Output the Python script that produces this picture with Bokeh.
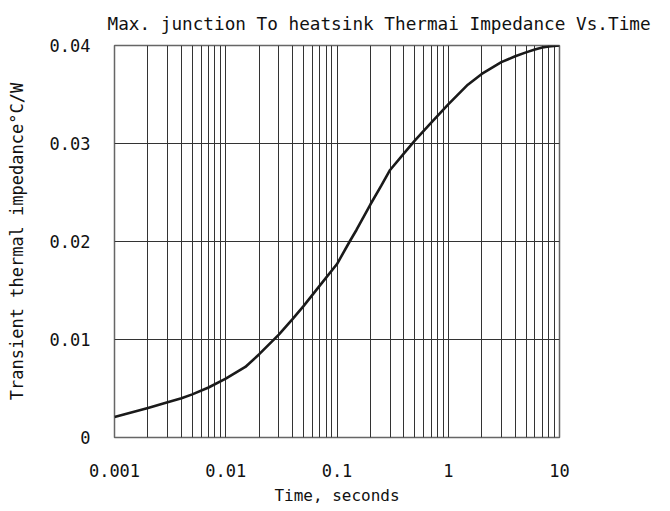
from bokeh.plotting import figure
from bokeh.models import Range1d, FixedTicker
from bokeh.embed import file_html
from bokeh.resources import INLINE

# ---- data ----
time_s = [0.001, 0.002, 0.003, 0.004, 0.005, 0.007, 0.01, 0.015, 0.02, 0.03,
          0.04, 0.05, 0.07, 0.1, 0.13, 0.15, 0.2, 0.25, 0.3, 0.4, 0.5, 0.7,
          1, 1.5, 2, 3, 4, 5, 6, 7, 8, 10]
impedance = [0.0021, 0.0030, 0.0036, 0.0040, 0.0044, 0.0051, 0.0060, 0.0072,
             0.0085, 0.0105, 0.0121, 0.0134, 0.0155, 0.0177, 0.0200, 0.0212,
             0.0238, 0.0257, 0.0273, 0.0290, 0.0303, 0.0321, 0.0340, 0.0360,
             0.0371, 0.0383, 0.0389, 0.0393, 0.0396, 0.0398, 0.0399, 0.0400]

x_ticks = [0.001, 0.01, 0.1, 1, 10]
x_tick_labels = ["0.001", "0.01", "0.1", "1", "10"]
y_ticks = [0, 0.01, 0.02, 0.03, 0.04]
y_tick_labels = ["0", "0.01", "0.02", "0.03", "0.04"]
minor_mult = [2, 3, 4, 5, 6, 7, 8, 9]

title_text = "Max. junction To heatsink Thermai Impedance Vs.Time"
x_label = "Time, seconds"
y_label = "Transient thermal impedance\u00b0C/W"

FONT = "DejaVu Sans Mono"

p = figure(
    x_axis_type="log",
    x_range=Range1d(x_ticks[0], x_ticks[-1]),
    y_range=Range1d(y_ticks[0], y_ticks[-1]),
    frame_width=445, frame_height=392,
    min_border_left=114, min_border_right=100,
    min_border_top=45, min_border_bottom=66,
    output_backend="svg", toolbar_location=None,
    title=title_text,
)

p.title.text_font = FONT
p.title.text_font_size = "17.7px"
p.title.text_font_style = "normal"
p.title.text_color = "#111111"
p.title.align = "left"
p.title.offset = -7
p.title.standoff = 23

p.background_fill_color = "white"
p.border_fill_color = "white"
p.outline_line_color = "#666666"
p.outline_line_width = 1.5

minor = [d * m for d in x_ticks[:-1] for m in minor_mult]
p.xaxis.ticker = FixedTicker(ticks=x_ticks, minor_ticks=minor)
p.yaxis.ticker = FixedTicker(ticks=y_ticks)
p.xaxis.major_label_overrides = dict(zip(x_ticks, x_tick_labels))
p.yaxis.major_label_overrides = dict(zip(y_ticks, y_tick_labels))

for ax in (p.xaxis, p.yaxis):
    ax.axis_line_color = None
    ax.major_tick_line_color = None
    ax.minor_tick_line_color = None
    ax.major_label_text_font = FONT
    ax.major_label_text_font_size = "17px"
    ax.major_label_text_color = "#111111"
    ax.axis_label_text_font = FONT
    ax.axis_label_text_font_style = "normal"
    ax.axis_label_text_color = "#111111"

p.xaxis.axis_label = x_label
p.yaxis.axis_label = y_label
p.xaxis.axis_label_text_font_size = "16px"
p.yaxis.axis_label_text_font_size = "17px"
p.xaxis.major_label_standoff = 20
p.xaxis.axis_label_standoff = 6
p.yaxis.major_label_standoff = 18
p.yaxis.axis_label_standoff = 20

p.xgrid.grid_line_color = "#333333"
p.xgrid.grid_line_width = 1
p.xgrid.minor_grid_line_color = "#333333"
p.xgrid.minor_grid_line_width = 1
p.ygrid.grid_line_color = "#333333"
p.ygrid.grid_line_width = 1

p.line(time_s, impedance, line_color="#1a1a1a", line_width=2.6)

open("out.html", "w").write(file_html(p, INLINE))
